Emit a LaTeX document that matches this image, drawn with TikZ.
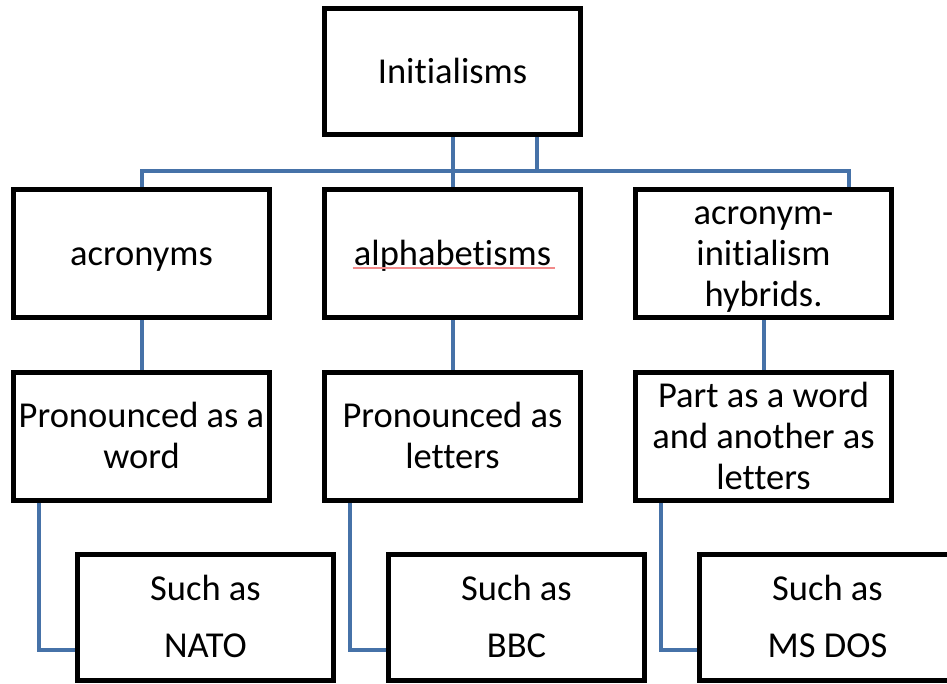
\documentclass[tikz,border=0pt]{standalone}
\usepackage{fontspec}
\setmainfont{Carlito}[Ligatures=CommonOff]
\usetikzlibrary{positioning, backgrounds}
\usepackage{xcolor}
\definecolor{linkblue}{HTML}{4672A8}
\definecolor{spell}{HTML}{F28A8A}
\newcommand{\ls}{\rule[-8pt]{0pt}{40pt}}

\begin{document}
\begin{tikzpicture}[
    x=1pt, y=-1pt,
    node distance=55pt and 55pt,
    box/.style={draw=black, line width=5pt, fill=white, outer sep=0pt, inner sep=0pt, align=center, minimum width=256pt, minimum height=128pt, font=\fontsize{36.5}{41}\selectfont},
    leaf/.style={box, minimum height=126pt},
    conn/.style={draw=linkblue, line width=4pt},
    spellline/.style={draw=spell, line width=1.5pt}
]
    \useasboundingbox (0,0) rectangle (947,684);

    \node[leaf] (top) at (452.5,72) {\ls Initialisms};

    \node[box, below=of top] (alpha) {\ls alphabetisms};
    \node[box, left=of alpha] (acro) {\ls acronyms};
    \node[box, right=of alpha] (hybr) {\ls acronym-\\\ls initialism\\\ls hybrids.};

    \node[box, below=54pt of acro] (pword) {\ls Pronounced as a\\\ls word};
    \node[box, below=54pt of alpha] (pletters) {\ls Pronounced as\\\ls letters};
    \node[box, below=54pt of hybr] (ppart) {\ls Part as a word\\\ls and another as\\\ls letters};

    \node[leaf, below=54pt of pword, xshift=64pt] (nato) {\ls Such as\\[16pt]\ls NATO};
    \node[leaf, below=54pt of pletters, xshift=64pt] (bbc) {\ls Such as\\[16pt]\ls BBC};
    \node[leaf, below=54pt of ppart, xshift=64pt] (msdos) {\ls Such as\\[16pt]\ls MS DOS};

    \draw[spellline] ([xshift=-100pt,yshift=-14pt]alpha.center) -- ++(202,0);

    \begin{scope}[on background layer]
        \coordinate (bus) at ([yshift=-36pt]top.south);
        \draw[conn] (top.south) -- (alpha.north);
        \draw[conn] ([xshift=84pt]top.south) |- (bus) -| (acro.north);
        \draw[conn] (bus) -| ([xshift=85pt]hybr.north);

        \draw[conn] (acro) -- (pword);
        \draw[conn] (alpha) -- (pletters);
        \draw[conn] (hybr) -- (ppart);

        \draw[conn] ([xshift=25pt]pword.south west) |- ([yshift=-33pt]nato.west);
        \draw[conn] ([xshift=25pt]pletters.south west) |- ([yshift=-33pt]bbc.west);
        \draw[conn] ([xshift=25pt]ppart.south west) |- ([yshift=-33pt]msdos.west);
    \end{scope}
\end{tikzpicture}
\end{document}
